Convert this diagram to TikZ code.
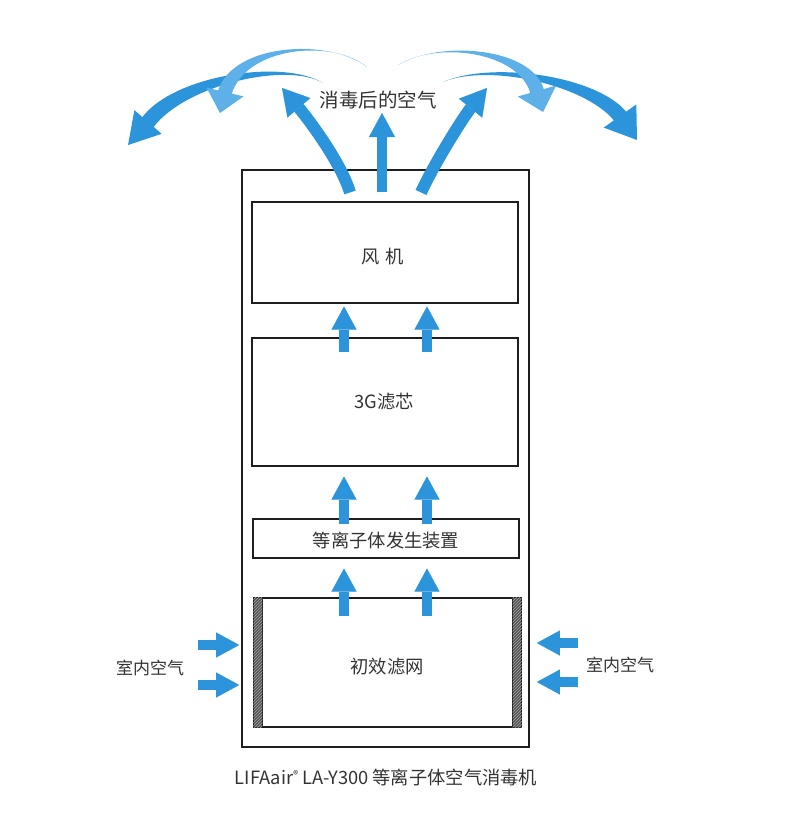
\documentclass[tikz,border=0pt]{standalone}
\usepackage{fontspec}
\setmainfont{Noto Sans CJK SC}
\usetikzlibrary{arrows.meta,calc,patterns}
\definecolor{ablue}{HTML}{2B94DB}
\definecolor{lblue}{HTML}{5DB0E8}
\definecolor{frame}{HTML}{1E1E1E}
\definecolor{barc}{HTML}{555555}
\definecolor{txt}{HTML}{333333}
\tikzset{
  box/.style={draw=frame, line width=1.1pt, minimum width=266pt, inner sep=0pt},
  lbl/.style={font=\fontsize{18.3}{18.3}\selectfont, text=txt, inner sep=0pt},
  sidelbl/.style={font=\fontsize{17}{17}\selectfont, text=txt, inner sep=0pt},
  blk/.style={draw=ablue, line width=10pt, -{Triangle[width=25pt,length=23pt,line width=0.01pt]}},
  blkc/.style={draw=ablue, line width=12pt, -{Triangle[width=30pt,length=26pt,line width=0.01pt]}},
  filterbar/.style={fill=barc, draw=frame, line width=0.6pt},
}
\newcommand{\taperarc}[8]{%
  \coordinate (tT) at #1;
  \coordinate (tA) at #2;
  \coordinate (tB) at #3;
  \coordinate (tH) at #4;
  \coordinate (tP) at #5;
  \coordinate (tSo) at ($(tH)!#6!90:(tP)$);
  \coordinate (tSi) at ($(tH)!#6!-90:(tP)$);
  \coordinate (tHo) at ($(tH)!#7!90:(tP)$);
  \coordinate (tHi) at ($(tH)!#7!-90:(tP)$);
  \fill[#8] (tT) .. controls ($(tA)+0.3*(tSo)-0.3*(tH)$) and ($(tB)+1*(tSo)-1*(tH)$) .. (tSo)
     -- (tHo) -- (tP) -- (tHi) -- (tSi)
     .. controls ($(tB)+1*(tSi)-1*(tH)$) and ($(tA)+0.3*(tSi)-0.3*(tH)$) .. (tT) -- cycle;
}
\begin{document}
\begin{tikzpicture}[x=1pt,y=-1pt]
\useasboundingbox (0,0) rectangle (787,835);
\fill[white] (0,0) rectangle (787,835);

% housing and modules
\node[draw=frame, line width=1.8pt, minimum width=287pt, minimum height=577pt, inner sep=0pt] (case) at (385.5,458.5) {};
\node[box, minimum height=101pt] (fan) at (385,252.5) {};
\node[box, minimum height=128pt] (g3) at (385,402) {};
\node[box, minimum height=39pt] (plasma) at (386,538.5) {};
\node[box, minimum width=267pt, minimum height=129pt] (pre) at (387.5,662.5) {};
\fill[filterbar] (pre.north west) rectangle ($(pre.south west)+(9,0)$);
\fill[pattern=north east lines, pattern color=gray!70] (pre.north west) rectangle ($(pre.south west)+(9,0)$);
\fill[filterbar] ($(pre.north east)+(-9,0)$) rectangle (pre.south east);
\fill[pattern=north east lines, pattern color=gray!70] ($(pre.north east)+(-9,0)$) rectangle (pre.south east);

% labels
\node[lbl] (tfan) at (383,257) {风\hspace{0.3em}机};
\node[lbl] (tg3) at (384,402) {3G滤芯};
\node[lbl] (tpl) at (386,541) {等离子体发生装置};
\node[lbl] (tpre) at (387,667) {初效滤网};
\node[sidelbl] (inL) at (150,668) {室内空气};
\node[sidelbl] (inR) at (620,665) {室内空气};
\node[lbl, font=\fontsize{19.5}{19.5}\selectfont] (outair) at (378,100) {消毒后的空气};
\node[lbl] (cap) at (386,777) {LIFAair{\fontsize{10}{10}\selectfont\raisebox{5.5pt}{®}} LA-Y300 等离子体空气消毒机};

% internal airflow
\draw[blk] ($(g3.north)+(-41,15)$) -- ($(fan.south)+(-41,3)$);
\draw[blk] ($(g3.north)+(42,15)$) -- ($(fan.south)+(42,3)$);
\draw[blk] ($(plasma.north)+(-42,6)$) -- ($(g3.south)+(-41,10)$);
\draw[blk] ($(plasma.north)+(41,6)$) -- ($(g3.south)+(42,10)$);
\draw[blk] ($(pre.north)+(-43.5,19)$) -- ($(plasma.south)+(-42,10)$);
\draw[blk] ($(pre.north)+(39.5,19)$) -- ($(plasma.south)+(41,10)$);

% intake
\coordinate (l1) at (198,645);
\coordinate (l2) at (198,685);
\coordinate (r1) at (578,643);
\coordinate (r2) at (578,682);
\draw[blk] (l1) -- ($(case.west |- l1)+(-2,0)$);
\draw[blk] (l2) -- ($(case.west |- l2)+(-2,0)$);
\draw[blk] (r1) -- ($(case.east |- r1)+(7,0)$);
\draw[blk] (r2) -- ($(case.east |- r2)+(7,0)$);

% outflow
\taperarc{(323,83)}{(285,60)}{(180,80)}{(148,122)}{(128,145)}{7.5pt}{18pt}{ablue}
\taperarc{(443,82)}{(490,62)}{(590,80)}{(620,116)}{(637,140)}{7.5pt}{20pt}{ablue}
\taperarc{(367,67)}{(330,38)}{(240,45)}{(225,92)}{(220,113)}{7pt}{19pt}{lblue}
\taperarc{(398,65)}{(440,40)}{(525,50)}{(537,91)}{(543,112)}{7pt}{20pt}{lblue}
\coordinate (uL) at (282,88);
\coordinate (uC) at (382,113);
\coordinate (uR) at (487,88);
\draw[blkc] ($(fan.north)+(-35,-9)$) .. controls (340,160) and (305,115) .. (uL);
\draw[blk, -{Triangle[width=26pt,length=24pt,line width=0.01pt]}] ($(fan.north)+(-3,-9)$) -- (uC);
\draw[blkc] ($(fan.north)+(36,-9)$) .. controls (436,160) and (465,115) .. (uR);
\end{tikzpicture}
\end{document}
